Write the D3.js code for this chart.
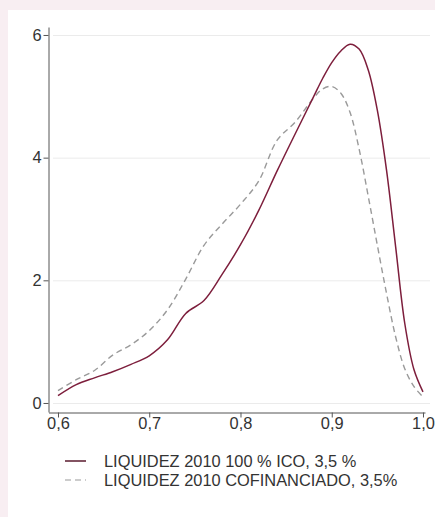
<!DOCTYPE html>
<html>
<head>
<meta charset="utf-8">
<script src="https://cdn.jsdelivr.net/npm/d3@7"></script>
<style>
    body { margin: 0; background: #f8eef2; }
    svg { display: block; }
    text { font-family: "Liberation Sans", Arial, sans-serif; fill: #333; }
</style>
</head>
<body>
<script>
// x values (share of liquidity)
let xValues = [0.60, 0.62, 0.64, 0.66, 0.68, 0.70, 0.72, 0.74, 0.76, 0.78, 0.80, 0.82, 0.84,
    0.86, 0.88, 0.89, 0.90, 0.91, 0.92, 0.93, 0.94, 0.95, 0.96, 0.97, 0.98, 0.99, 1.00];

// density, 100 % ICO
let icoValues = [0.12, 0.30, 0.41, 0.51, 0.63, 0.77, 1.03, 1.46, 1.67, 2.10, 2.58, 3.14, 3.78,
    4.39, 4.99, 5.29, 5.55, 5.74, 5.85, 5.77, 5.43, 4.77, 3.80, 2.55, 1.30, 0.55, 0.18];

// density, cofinanciado
let cofValues = [0.20, 0.38, 0.53, 0.78, 0.95, 1.18, 1.52, 2.02, 2.57, 2.92, 3.24, 3.62, 4.28,
    4.58, 4.97, 5.12, 5.16, 5.05, 4.74, 4.14, 3.37, 2.57, 1.79, 1.08, 0.56, 0.27, 0.10];

let xTicks = [0.6, 0.7, 0.8, 0.9, 1.0];
let yTicks = [0, 2, 4, 6];
let legendLabels = ["LIQUIDEZ 2010 100 % ICO, 3,5 %", "LIQUIDEZ 2010 COFINANCIADO, 3,5%"];

let width = 435, height = 517;
let fontSize = "16.4px";

let svg = d3.select("body").append("svg")
    .attr("width", width)
    .attr("height", height);

// white panel over the pink page
svg.append("rect")
    .attr("x", 8).attr("y", 10)
    .attr("width", width - 8).attr("height", height - 10)
    .attr("fill", "#ffffff");

let x = d3.scaleLinear().domain([0.5896, 1.0022]).range([48.5, 425]);
let y = d3.scaleLinear().domain([-0.147, 6.13]).range([412, 27]);

// gridlines
svg.append("g").selectAll("line")
    .data(yTicks)
    .join("line")
    .attr("x1", 53).attr("x2", 430)
    .attr("y1", d => y(d) + 0.5).attr("y2", d => y(d) + 0.5)
    .attr("stroke", "#ebebeb")
    .attr("stroke-width", 1);

// axes
let commaFormat = d => d3.format(".1f")(d).replace(".", ",");

let xAxis = svg.append("g")
    .attr("transform", "translate(0,412.5)")
    .call(d3.axisBottom(x).tickValues(xTicks).tickFormat(commaFormat)
        .tickSize(5).tickSizeOuter(0));
xAxis.selectAll("text")
    .attr("dy", null).attr("y", 16)
    .style("font-size", fontSize);

let yAxis = svg.append("g")
    .attr("transform", "translate(48.5,0)")
    .call(d3.axisLeft(y).tickValues(yTicks).tickFormat(d3.format("d"))
        .tickSize(5).tickPadding(2).tickSizeOuter(0));
yAxis.selectAll("text")
    .style("font-size", fontSize);

svg.selectAll(".domain, .tick line")
    .attr("stroke", "#555");

// the two density curves
let line = d3.line()
    .x((d, i) => x(xValues[i]))
    .y(d => y(d))
    .curve(d3.curveCatmullRom.alpha(0.5));

svg.append("path")
    .datum(cofValues)
    .attr("d", line)
    .attr("fill", "none")
    .attr("stroke", "#9a9a9a")
    .attr("stroke-width", 1.4)
    .attr("stroke-dasharray", "6,4");

svg.append("path")
    .datum(icoValues)
    .attr("d", line)
    .attr("fill", "none")
    .attr("stroke", "#7d1e3c")
    .attr("stroke-width", 1.5);

// legend
let legend = svg.append("g");
let legendY = [461, 480];

legend.selectAll("line")
    .data(legendLabels)
    .join("line")
    .attr("x1", 65).attr("x2", 86)
    .attr("y1", (d, i) => legendY[i]).attr("y2", (d, i) => legendY[i])
    .attr("stroke", (d, i) => i === 0 ? "#5a1a2e" : "#9a9a9a")
    .attr("stroke-width", (d, i) => i === 0 ? 1.5 : 1.2)
    .attr("stroke-dasharray", (d, i) => i === 0 ? null : "6,4");

legend.selectAll("text")
    .data(legendLabels)
    .join("text")
    .attr("x", 104)
    .attr("y", (d, i) => legendY[i] + 6)
    .style("font-size", fontSize)
    .text(d => d);
</script>
</body>
</html>
